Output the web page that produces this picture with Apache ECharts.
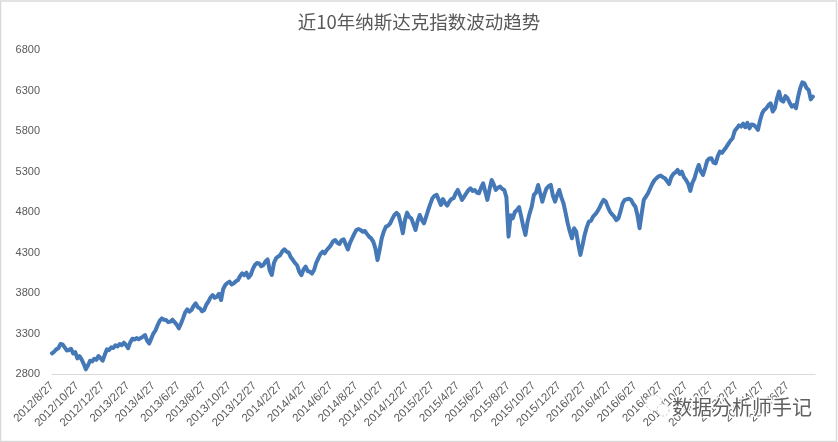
<!DOCTYPE html>
<html><head><meta charset="utf-8">
<style>html,body{margin:0;padding:0;background:#fff}#c{width:838px;height:442px}</style>
<script src="https://cdn.jsdelivr.net/npm/echarts@6/dist/echarts.min.js"></script>
</head><body><div id="c"></div>
<script>
const titleText = "近10年纳斯达克指数波动趋势";
const watermarkText = "数据分析师手记";
const yTickLabels = [2800,3300,3800,4300,4800,5300,5800,6300,6800];
const closeValues = [
3055,3075,3104,3118,3170,3165,3129,3090,3096,3112,
3055,3070,2993,3020,2981,2925,2857,2905,2964,2955,
2989,2975,3022,2995,2964,3040,3104,3095,3129,3120,
3154,3140,3170,3155,3186,3160,3117,3190,3236,3225,
3244,3230,3244,3262,3281,3210,3178,3240,3302,3340,
3405,3460,3487,3470,3466,3440,3446,3470,3440,3410,
3363,3420,3487,3560,3598,3570,3590,3640,3672,3625,
3610,3575,3590,3655,3693,3745,3775,3740,3755,3790,
3713,3850,3899,3925,3940,3905,3919,3945,3960,4010,
4043,4020,4051,3990,4022,4095,4146,4170,4166,4130,
4146,4190,4216,4080,4022,4170,4228,4250,4269,4315,
4339,4310,4298,4240,4207,4170,4140,4060,4020,4090,
4125,4070,4063,4040,4084,4170,4228,4280,4310,4290,
4331,4360,4393,4440,4454,4420,4405,4450,4463,4400,
4339,4420,4475,4530,4578,4590,4578,4555,4566,4530,
4496,4475,4434,4350,4207,4330,4475,4560,4619,4630,
4660,4715,4763,4790,4763,4660,4537,4700,4792,4740,
4722,4650,4578,4690,4763,4700,
4660,4740,4825,4900,4970,5000,5011,4950,4887,4960,4908,4880,4928,4960,4970,5030,5072,5010,4949,4990,5031,5070,5093,5060,
5072,5040,5031,5100,5155,5050,4949,5080,5196,5140,5072,5100,5114,5085,5072,4980,4496,4760,4722,4800,
4825,4860,4743,4620,4517,4680,4784,4870,5011,5040,5134,5030,4928,5020,5093,5120,5134,5000,4928,5010,
5072,4980,4908,4790,4661,4560,4475,4600,4558,4400,4270,4390,4517,4610,4681,4690,4743,4770,4805,4850,
4908,4950,4928,4860,4805,4770,4743,4700,4722,4810,4908,4950,4957,4965,4949,4900,4867,4760,4599,4780,
4949,4990,5031,5090,5147,5190,5217,5240,5250,5230,5217,5180,5147,5230,5270,5290,5319,5270,5298,5230,
5195,5150,5060,5160,5216,5310,5381,5300,5257,5340,5434,5460,5463,5410,5401,5490,5545,5530,5566,5600,
5640,5680,5710,5800,5833,5870,5854,5890,5846,5900,5833,5880,5875,5850,5813,5930,6019,6060,6081,6120,
6142,6040,6081,6200,6286,6180,6163,6230,6204,6150,6101,6120,6081,6220,6328,6400,6389,6330,6307,6190,6225
];
// Date categories every five days or so, starting 2012/8/27; every twelfth one is a two-month tick.
const dates = [];
const dayCycle = [27, 2, 7, 12, 17, 22];
for (let i = 0; i < 362; i++) {
  const m = 7 + Math.floor((i + 5) / 6);
  const y = 2012 + Math.floor(m / 12);
  dates.push(y + "/" + (m % 12 + 1) + "/" + dayCycle[i % 6]);
}
const lastLabelIndex = 348;
const chart = echarts.init(document.getElementById("c"), null, {renderer: "canvas"});
const grey = "#595959";
const latin = "'Liberation Sans','Noto Sans CJK SC',sans-serif";
chart.setOption({
  animation: false,
  backgroundColor: "#fff",
  title: {text: titleText, left: "center", top: 8,
    textStyle: {fontFamily: "'Noto Sans CJK SC'", fontSize: 18.5, fontWeight: "normal", color: grey}},
  grid: {left: 52, right: 23, top: 50, bottom: 68},
  xAxis: {type: "category", data: dates, boundaryGap: false,
    axisLine: {lineStyle: {color: "#d9d9d9", width: 1}},
    axisTick: {show: false},
    axisLabel: {rotate: 45, color: grey, fontSize: 11.5, fontFamily: latin, margin: 10, hideOverlap: false,
      interval: (i) => i % 12 === 0 && i <= lastLabelIndex}},
  yAxis: {type: "value", min: 2800, max: 6800,
    axisLine: {show: false}, axisTick: {show: false}, splitLine: {show: false},
    axisLabel: {customValues: yTickLabels, color: grey, fontSize: 11, fontFamily: latin, margin: 12,
      formatter: (v) => String(v)}},
  series: [{type: "line", data: closeValues, showSymbol: false, smooth: false, sampling: "none",
    lineStyle: {color: "#4478b6", width: 4, join: "round", cap: "round"}}],
  graphic: [
    {type: "rect", silent: true, z: 0, shape: {x: 0.5, y: 1, width: 836, height: 440.5},
      style: {fill: "none", stroke: "#d9d9d9", lineWidth: 1.5}},
    {type: "circle", silent: true, z: 50, shape: {cx: 654, cy: 403, r: 8},
      style: {fill: "#fff", stroke: "#c4c4c4", lineWidth: 1, lineDash: [2, 2]}},
    {type: "circle", silent: true, z: 50, shape: {cx: 663, cy: 410, r: 6},
      style: {fill: "#fff", stroke: "#c4c4c4", lineWidth: 1, lineDash: [2, 2]}},
    {type: "text", silent: true, z: 51, x: 742, y: 407,
      style: {text: watermarkText, fontFamily: "'Noto Sans CJK SC'", fontSize: 20, align: "center", verticalAlign: "middle",
        fill: "#5f5f5f", stroke: "#fff", lineWidth: 2.5}}
  ]
});
</script></body></html>
